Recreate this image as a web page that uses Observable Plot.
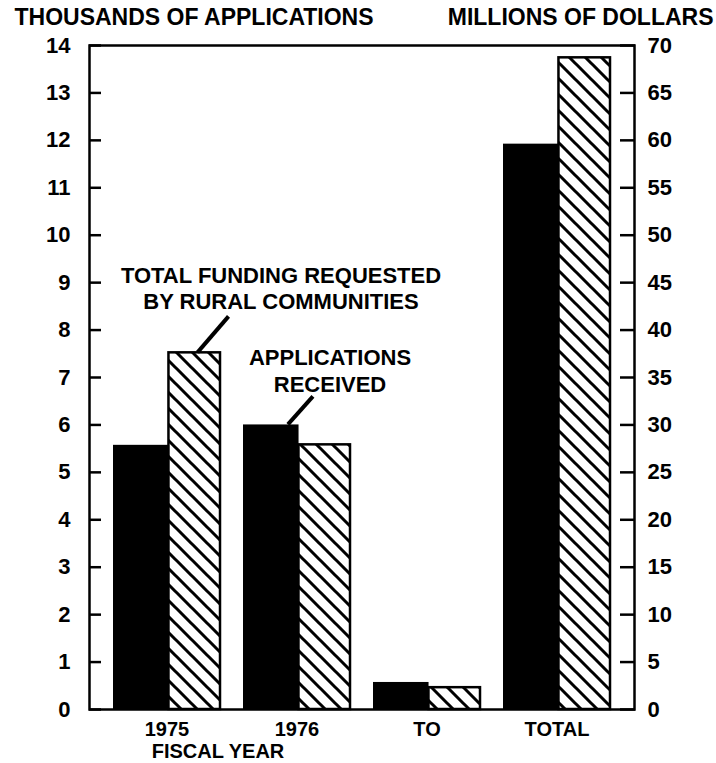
<!DOCTYPE html>
<html><head><meta charset="utf-8">
<script src="https://cdn.jsdelivr.net/npm/d3@7"></script>
<script src="https://cdn.jsdelivr.net/npm/@observablehq/plot@0.6"></script>
<style>body{margin:0;background:#fff}</style>
</head><body><div id="chart"></div>
<script>
// ---- data ----
const groups = ["1975", "1976", "TO", "TOTAL"];
const applications = [5.57, 6.0, 0.57, 11.92];   // thousands of applications (left axis)
const funding = [37.6, 27.9, 2.3, 68.7];         // millions of dollars (right axis)
const leftTicks = d3.range(0, 15, 1);
const rightTicks = d3.range(0, 75, 5);
const leftTitle = "THOUSANDS OF APPLICATIONS";
const rightTitle = "MILLIONS OF DOLLARS";
const xTitle = "FISCAL YEAR";
const fundingLabel = "TOTAL FUNDING REQUESTED\nBY RURAL COMMUNITIES";
const applicationsLabel = "APPLICATIONS\nRECEIVED";

// ---- layout ----
const W = 716, H = 763;
const M = {left: 89, right: 82, top: 45, bottom: 54};
const pad = 0.18;
const ratio = d3.max(rightTicks) / d3.max(leftTicks);
const rows = groups.map((g, i) => ({group: g, applications: applications[i], funding: funding[i], fundingScaled: funding[i] / ratio}));
const bw = d3.scaleBand().domain(groups).range([M.left, W - M.right]).padding(pad).bandwidth();

function leaders(index, scales) {
  const band = typeof scales.x.bandwidth === "function" ? scales.x.bandwidth() : bw;
  const g = d3.create("svg:g").attr("stroke", "black").attr("stroke-width", 4);
  const a = rows[0], b = rows[1];
  const x1 = scales.x(a.group) + band * 0.79, y1 = scales.y(a.fundingScaled);
  g.append("line").attr("x1", x1).attr("y1", y1).attr("x2", x1 + 31).attr("y2", y1 - 36);
  const x2 = scales.x(b.group) + band * 0.42, y2 = scales.y(b.applications);
  g.append("line").attr("x1", x2).attr("y1", y2).attr("x2", x2 + 25).attr("y2", y2 - 28);
  return g.node();
}

const font = "'Liberation Sans', Arial, Helvetica, sans-serif";
const chart = Plot.plot({
  width: W, height: H,
  marginLeft: M.left, marginRight: M.right, marginTop: M.top, marginBottom: M.bottom,
  style: {fontFamily: font, fontSize: "22px", fontWeight: "bold", color: "black", background: "white"},
  x: {domain: groups, padding: pad, axis: null},
  y: {domain: [0, d3.max(leftTicks)], axis: null},
  marks: [
    Plot.barY(rows, {x: "group", y: "applications", fill: "black", insetRight: bw / 2 - 2}),
    Plot.barY(rows, {x: "group", y: "fundingScaled", fill: "url(#hatch)", stroke: "black", strokeWidth: 2.5, insetLeft: bw / 2 + 2}),
    Plot.frame({stroke: "black", strokeWidth: 2.5}),
    Plot.axisY(leftTicks, {anchor: "left", tickSize: -12, tickPadding: 31, strokeWidth: 2.5, label: null, fontSize: 22}),
    Plot.axisY(rightTicks.map(d => d / ratio), {anchor: "right", tickSize: -15, tickPadding: 28, strokeWidth: 2.5, label: null, fontSize: 22, tickFormat: d => Math.round(d * ratio)}),
    Plot.axisX({tickSize: 0, tickPadding: 12, label: null, fontSize: 20}),
    Plot.text([xTitle], {x: () => groups[0], y: () => 0, dx: 51, dy: 42, fontSize: 20, fontWeight: "bold"}),
    Plot.text([leftTitle], {frameAnchor: "top-left", textAnchor: "start", dx: -75, dy: -37, fontSize: 23, fontWeight: "bold"}),
    Plot.text([rightTitle], {frameAnchor: "top-right", textAnchor: "end", dx: 79, dy: -37, fontSize: 23, fontWeight: "bold"}),
    Plot.text([rows[0]], {x: "group", y: "fundingScaled", text: () => fundingLabel, dx: 114, dy: -65, lineHeight: 1.2, fontSize: 22, fontWeight: "bold"}),
    Plot.text([rows[1]], {x: "group", y: "applications", text: () => applicationsLabel, dx: 33, dy: -55, lineHeight: 1.2, fontSize: 22, fontWeight: "bold"}),
    leaders
  ]
});

// hatch pattern definition
const svg = d3.select(chart);
const defs = svg.insert("defs", ":first-child");
const p = defs.append("pattern").attr("id", "hatch").attr("patternUnits", "userSpaceOnUse")
  .attr("width", 16).attr("height", 16);
p.append("rect").attr("width", 16).attr("height", 16).attr("fill", "white");
p.append("path").attr("d", "M0,0L16,16M-4,12L4,20M12,-4L20,4").attr("stroke", "black").attr("stroke-width", 3);

document.getElementById("chart").appendChild(chart);
</script>
</body></html>
